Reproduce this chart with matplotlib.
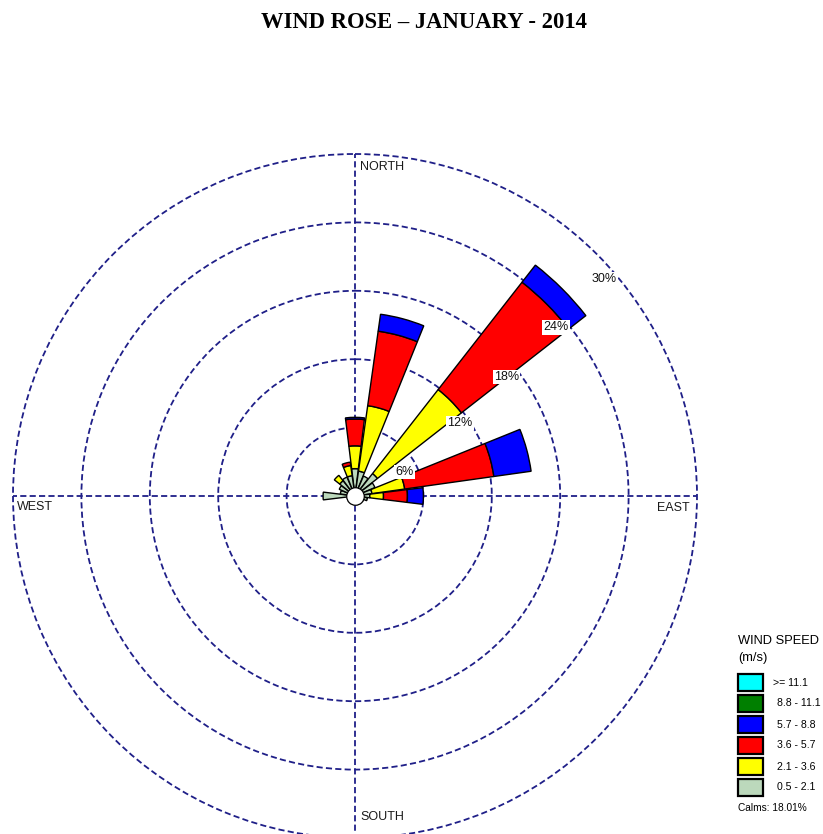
import numpy as np
import matplotlib
matplotlib.use("Agg")
import matplotlib.pyplot as plt
from matplotlib.patches import Rectangle

# ---------------- data ----------------
directions = list(range(0, 360, 15))  # degrees, 24 sectors
# frequency (%) per speed class, per direction
spd_05_21 = [2.4, 2.2, 1.9, 2.5, 1.9, 1.5, 1.3, 1.1, 0.8, 0.6, 0.5, 0.5,
             0.4, 0.4, 0.4, 0.5, 0.5, 0.6, 2.8, 1.3, 1.5, 1.7, 1.8, 1.8]
spd_21_36 = [2.0, 5.8, 0.0, 9.35, 0.0, 2.9, 1.2, 0.0, 0.0, 0.0, 0.0, 0.0,
             0.0, 0.0, 0.0, 0.0, 0.0, 0.0, 0.0, 0.0, 0.0, 0.6, 0.0, 0.9]
spd_36_57 = [2.35, 6.6, 0.0, 11.95, 0.0, 7.9, 2.1, 0.0, 0.0, 0.0, 0.0, 0.0,
             0.0, 0.0, 0.0, 0.0, 0.0, 0.0, 0.0, 0.0, 0.0, 0.0, 0.0, 0.3]
spd_57_88 = [0.15, 1.5, 0.0, 1.9, 0.0, 3.3, 1.4, 0.0, 0.0, 0.0, 0.0, 0.0,
             0.0, 0.0, 0.0, 0.0, 0.0, 0.0, 0.0, 0.0, 0.0, 0.0, 0.0, 0.0]
spd_88_111 = [0.0] * 24
spd_ge_111 = [0.0] * 24

class_labels = [">= 11.1", "8.8 - 11.1", "5.7 - 8.8", "3.6 - 5.7", "2.1 - 3.6", "0.5 - 2.1"]
class_colors = ["#00ffff", "#007f00", "#0000ff", "#ff0000", "#ffff00", "#bcd9bc"]
ring_values = [6, 12, 18, 24, 30]
ring_labels = ["6%", "12%", "18%", "24%", "30%"]
calms_text = "Calms: 18.01%"
title = "WIND ROSE \u2013 JANUARY - 2014"

# ---------------- figure ----------------
W, H = 823, 834
fig = plt.figure(figsize=(W / 100, H / 100), dpi=100)

def fx(px):
    return px / W

def fy(py):
    return 1 - py / H

cx, cy, R = 355, 496, 342
ax = fig.add_axes([fx(cx - R), fy(cy + R), 2 * R / W, 2 * R / H], projection="polar")
ax.set_theta_zero_location("N")
ax.set_theta_direction(-1)
ax.set_ylim(0, 30)
ax.spines["polar"].set_visible(False)
ax.set_rgrids(ring_values, labels=[""] * len(ring_values))
ax.set_thetagrids([0, 90, 180, 270], labels=[""] * 4)
gcol = "#1f1f88"
ax.grid(True, color=gcol, linestyle=(0, (3.4, 1.8)), linewidth=1.3)
for gl in ax.yaxis.get_gridlines() + ax.xaxis.get_gridlines():
    gl.set_clip_on(False)
ax.set_axisbelow(True)
ax.patch.set_alpha(0)

theta = np.deg2rad(directions)
width = np.deg2rad(14)
stack = [spd_05_21, spd_21_36, spd_36_57, spd_57_88, spd_88_111, spd_ge_111]
stack_colors = class_colors[::-1]
bottom = np.zeros(len(directions))
for vals, col in zip(stack, stack_colors):
    v = np.array(vals, dtype=float)
    mask = v > 0
    ax.bar(theta[mask], v[mask], width=width, bottom=bottom[mask], color=col,
           edgecolor="black", linewidth=1.0, zorder=3)
    bottom = bottom + v

# calm circle
ax.scatter([0], [0], s=160, facecolor="white", edgecolor="black", linewidth=0.9, zorder=6)

# ring labels
lab_theta = [63.9, 55.2, 51.8, 50.0, 48.9]
lab_r = [4.8, 11.2, 16.9, 23.0, 28.95]
for t, r, s in zip(lab_theta, lab_r, ring_labels):
    ax.text(np.deg2rad(t), r, s, fontsize=9, family="Liberation Sans", ha="center", va="center",
            zorder=7, color="#111111",
            bbox=dict(boxstyle="square,pad=0.1", facecolor="white", edgecolor="none"))

# compass labels
cf = dict(fontsize=9, family="Liberation Sans", va="center", ha="left", color="#1a1a1a")
fig.text(fx(360), fy(166.5), "NORTH", **cf)
fig.text(fx(360), fy(817), "SOUTH", **cf)
fig.text(fx(17), fy(507.5), "WEST", **cf)
fig.text(fx(657), fy(508), "EAST", **cf)

# title
fig.text(fx(424), fy(22), title, fontsize=16.3, fontweight="bold", family="Liberation Serif",
         ha="center", va="center")

# legend
fig.text(fx(738), fy(641.5), "WIND SPEED", fontsize=9.3, family="Liberation Sans", ha="left", va="center")
fig.text(fx(738), fy(658), "(m/s)", fontsize=9.3, family="Liberation Sans", ha="left", va="center")
tops = [674, 695, 716, 737, 758, 779]
for i, (lab, col) in enumerate(zip(class_labels, class_colors)):
    t = tops[i]
    fig.add_artist(Rectangle((fx(738), fy(t + 17)), 25 / W, 17 / H, transform=fig.transFigure,
                             facecolor=col, edgecolor="black", linewidth=1.6))
    fig.text(fx(773 if i == 0 else 777), fy(t + 8.5), lab, fontsize=7.6, family="Liberation Sans",
             ha="left", va="center")
fig.text(fx(738), fy(808), calms_text, fontsize=7.3, family="Liberation Sans", ha="left", va="center")

fig.savefig("out.png", dpi=100)
